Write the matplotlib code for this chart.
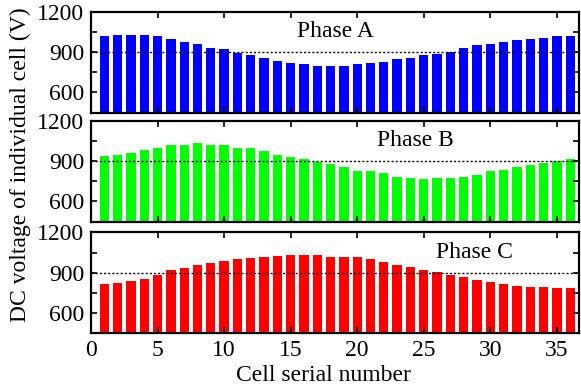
import numpy as np
import matplotlib
matplotlib.use('Agg')
import matplotlib.pyplot as plt
from matplotlib.ticker import MultipleLocator

plt.rcParams['font.family'] = ['Liberation Serif', 'DejaVu Serif']

# DC voltage of each cell (V), 36 cells per phase
cells = np.arange(1, 37)
phase_a = [1018, 1025, 1025, 1025, 1018, 996, 974, 959, 934, 920,
           893, 875, 853, 831, 819, 812, 797, 797, 797, 812,
           819, 826, 848, 856, 878, 885, 900, 929, 952, 959,
           974, 988, 996, 1003, 1018, 1018]
phase_b = [935, 942, 957, 979, 994, 1016, 1023, 1031, 1023, 1016,
           996, 994, 972, 949, 927, 912, 890, 875, 853, 826,
           823, 808, 781, 774, 766, 774, 774, 781, 796, 823,
           833, 853, 868, 883, 898, 912]
phase_c = [816, 824, 839, 853, 883, 920, 934, 957, 971, 986,
           1001, 1008, 1016, 1023, 1030, 1030, 1030, 1020, 1020, 1013,
           1001, 979, 957, 942, 920, 905, 883, 868, 846, 831,
           816, 802, 794, 794, 787, 787]

panels = [
    (phase_a, 'blue', 'Phase A', 18.4),
    (phase_b, '#00ff00', 'Phase B', 24.4),
    (phase_c, 'red', 'Phase C', 28.8),
]

fig = plt.figure(figsize=(5.81, 3.89), dpi=100)
left, width, height = 0.1566, 0.8408, 0.2596
bottoms = [0.7103, 0.4301, 0.1432]
fs = 17

for i, (vals, color, name, tx) in enumerate(panels):
    ax = fig.add_axes([left, bottoms[i], width, height])
    ax.bar(cells, vals, width=0.7, color=color)
    ax.axhline(900, color='black', linestyle=(0, (1.5, 1.5)), linewidth=1.0)
    ax.set_xlim(0, 36.7)
    ax.set_ylim(450, 1200)
    ax.set_yticks([600, 900, 1200])
    ax.yaxis.set_minor_locator(MultipleLocator(150))
    ax.set_xticks(range(0, 36, 5))
    ax.tick_params(which='both', direction='in', top=True, right=True,
                   width=1.2, length=4, labelsize=fs)
    ax.tick_params(axis='y', pad=5)
    ax.tick_params(axis='x', pad=5)
    for sp in ax.spines.values():
        sp.set_linewidth(1.6)
    ax.text(tx, 1050, name, ha='center', va='center', fontsize=fs)
    if i < 2:
        ax.tick_params(labelbottom=False)
    else:
        ax.set_xlabel('Cell serial number', fontsize=fs)
        ax.xaxis.set_label_coords(0.475, -0.31)

fig.text(0.035, 0.576, 'DC voltage of individual cell (V)', rotation=90,
         ha='center', va='center', fontsize=fs)

fig.savefig('out.png', dpi=100)
